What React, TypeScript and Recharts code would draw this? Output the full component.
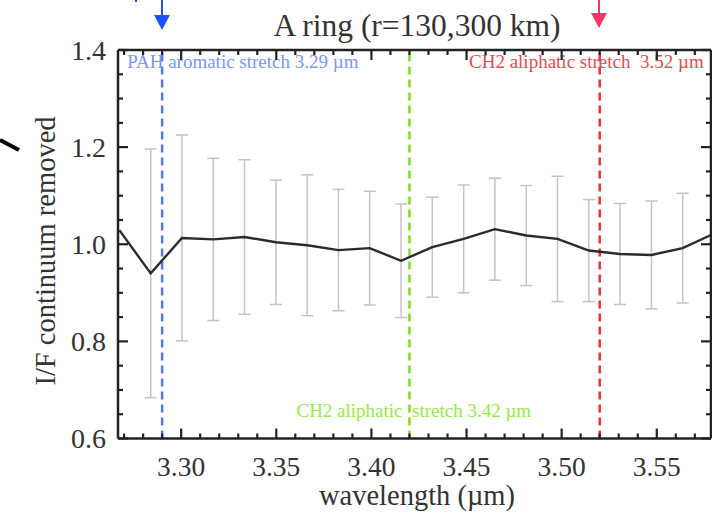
import { ComposedChart, Line, XAxis, YAxis, ErrorBar, ReferenceLine } from "recharts";

// VIMS channels (µm) and the continuum-removed I/F
const wavelength = [
  3.2675, 3.284, 3.3004, 3.3169, 3.3333, 3.3498, 3.3662, 3.3827, 3.3991, 3.4156,
  3.432, 3.4485, 3.4649, 3.4814, 3.4978, 3.5143, 3.5307, 3.5472, 3.5636, 3.5801,
];
const ifRatio = [
  1.029, 0.94, 1.013, 1.01, 1.015, 1.004, 0.998, 0.988, 0.992, 0.966,
  0.994, 1.011, 1.031, 1.018, 1.011, 0.987, 0.98, 0.978, 0.992, 1.022,
];
// 1-sigma error, none visible for the two channels sitting on the frame
const ifError = [
  null, 0.256, 0.212, 0.167, 0.159, 0.128, 0.145, 0.125, 0.117, 0.117,
  0.103, 0.111, 0.105, 0.103, 0.129, 0.105, 0.104, 0.111, 0.113, null,
];

const xTicks = [
  3.27, 3.28, 3.29, 3.3, 3.31, 3.32, 3.33, 3.34, 3.35, 3.36, 3.37, 3.38, 3.39, 3.4, 3.41, 3.42,
  3.43, 3.44, 3.45, 3.46, 3.47, 3.48, 3.49, 3.5, 3.51, 3.52, 3.53, 3.54, 3.55, 3.56, 3.57,
];
const xTickLabels = [3.3, 3.35, 3.4, 3.45, 3.5, 3.55];
const yTicks = [
  0.6, 0.65, 0.7, 0.75, 0.8, 0.85, 0.9, 0.95, 1.0, 1.05, 1.1, 1.15, 1.2, 1.25, 1.3, 1.35, 1.4,
];
const yTickLabels = [0.6, 0.8, 1.0, 1.2, 1.4];

const bandCenters = [3.29, 3.42, 3.52];
const bandLabels = [
  "PAH aromatic stretch 3.29 µm",
  "CH2 aliphatic  stretch 3.42 µm",
  "CH2 aliphatic stretch  3.52 µm",
];

const FONT = "'Liberation Serif', 'Times New Roman', serif";
const INK = "#222";
const TEXT = "#333";
const X_DOMAIN = [3.2668, 3.5785];
const Y_DOMAIN = [0.6, 1.4];

// line colour, text colour, label offset from the line, anchor
const bandStyle = [
  { line: "#5276ff", text: "#7a95ff", dx: -35, dy: 18, anchor: "start" },
  { line: "#80dd1c", text: "#95ea45", dx: -113, dy: 367, anchor: "start" },
  { line: "#e5323f", text: "#e64a52", dx: 104, dy: 18, anchor: "end" },
];

const isOn = (list: number[], v: number) => list.some((t) => Math.abs(t - v) < 1e-6);

const frame = { stroke: INK, strokeWidth: 2.5 };
const MAJOR = 10;
const MINOR = 5;

function BottomTick({ x, y, payload }: any) {
  const major = isOn(xTickLabels, payload.value);
  return (
    <g>
      <line x1={x} x2={x} y1={y} y2={y - (major ? MAJOR : MINOR)} stroke={INK} strokeWidth={2.2} />
      {major && (
        <text x={x} y={y + 37} textAnchor="middle" fontFamily={FONT} fontSize={27.5} fill={TEXT}>
          {payload.value.toFixed(2)}
        </text>
      )}
    </g>
  );
}

function TopTick({ x, y, payload }: any) {
  const major = isOn(xTickLabels, payload.value);
  return <line x1={x} x2={x} y1={y} y2={y + (major ? MAJOR : MINOR)} stroke={INK} strokeWidth={2.2} />;
}

function LeftTick({ x, y, payload }: any) {
  const major = isOn(yTickLabels, payload.value);
  return (
    <g>
      <line x1={x} x2={x + (major ? MAJOR : MINOR)} y1={y} y2={y} stroke={INK} strokeWidth={2.2} />
      {major && (
        <text x={x - 12} y={y + 9.5} textAnchor="end" fontFamily={FONT} fontSize={28} fill={TEXT}>
          {payload.value.toFixed(1)}
        </text>
      )}
    </g>
  );
}

function RightTick({ x, y, payload }: any) {
  const major = isOn(yTickLabels, payload.value);
  return <line x1={x} x2={x - (major ? MAJOR : MINOR)} y1={y} y2={y} stroke={INK} strokeWidth={2.2} />;
}

export default function App() {
  const data = wavelength.map((w, i) => ({ w, r: ifRatio[i], e: ifError[i] }));
  const errData = data.filter((d) => d.e != null);

  return (
    <div style={{ position: "absolute", left: 0, top: 0, width: 712, height: 515, background: "#fff" }}>
      <ComposedChart width={712} height={515} data={data} margin={{ top: 49, right: 0, bottom: 0, left: 0 }}>
        <XAxis
          xAxisId="b"
          dataKey="w"
          type="number"
          domain={X_DOMAIN}
          allowDataOverflow
          ticks={xTicks}
          interval={0}
          tick={BottomTick}
          tickLine={false}
          tickSize={0}
          tickMargin={0}
          height={76.5}
          axisLine={frame}
          label={{
            content: () => (
              <text x={417} y={505} textAnchor="middle" fontFamily={FONT} fontSize={28.5} fill={TEXT}>
                wavelength (µm)
              </text>
            ),
          }}
        />
        <XAxis
          xAxisId="t"
          orientation="top"
          dataKey="w"
          type="number"
          domain={X_DOMAIN}
          ticks={xTicks}
          interval={0}
          tick={TopTick}
          tickLine={false}
          tickSize={0}
          tickMargin={0}
          height={1}
          axisLine={frame}
        />
        <YAxis
          yAxisId="l"
          type="number"
          domain={Y_DOMAIN}
          ticks={yTicks}
          interval={0}
          tick={LeftTick}
          tickLine={false}
          tickSize={0}
          tickMargin={0}
          width={118}
          axisLine={frame}
          label={{
            content: () => (
              <text
                x={45}
                y={251}
                transform="rotate(-90, 45, 251)"
                textAnchor="middle"
                dominantBaseline="central"
                fontFamily={FONT}
                fontSize={28.5}
                fill={TEXT}
              >
                I/F continuum removed
              </text>
            ),
          }}
        />
        <YAxis
          yAxisId="r"
          orientation="right"
          type="number"
          domain={Y_DOMAIN}
          ticks={yTicks}
          interval={0}
          tick={RightTick}
          tickLine={false}
          tickSize={0}
          tickMargin={0}
          width={1}
          axisLine={frame}
        />

        {bandCenters.map((c, i) => {
          const s = bandStyle[i];
          return (
            <ReferenceLine
              key={c}
              x={c}
              xAxisId="b"
              yAxisId="l"
              stroke={s.line}
              strokeWidth={2.5}
              strokeDasharray="8 5"
              label={{
                content: (p: any) => (
                  <text
                    x={p.viewBox.x + s.dx}
                    y={p.viewBox.y + s.dy}
                    textAnchor={s.anchor}
                    fontFamily={FONT}
                    fontSize={19}
                    fill={s.text}
                    style={{ whiteSpace: "pre" }}
                  >
                    {bandLabels[i]}
                  </text>
                ),
              }}
            />
          );
        })}

        {/* error bars ride on the top/right axes (same domains) so those axes get ticks */}
        <Line
          data={errData}
          xAxisId="t"
          yAxisId="r"
          dataKey="r"
          stroke="none"
          dot={false}
          isAnimationActive={false}
        >
          <ErrorBar dataKey="e" direction="y" width={6} stroke="#c4c4c4" strokeWidth={1.5} />
        </Line>
        <Line
          xAxisId="b"
          yAxisId="l"
          dataKey="r"
          type="linear"
          stroke="#2b2b2b"
          strokeWidth={2.4}
          dot={false}
          isAnimationActive={false}
        />
      </ComposedChart>

      <svg width={712} height={515} style={{ position: "absolute", left: 0, top: 0, pointerEvents: "none" }}>
        <text x={417} y={36} textAnchor="middle" fontFamily={FONT} fontSize={31.5} fill={TEXT}>
          A ring (r=130,300 km)
        </text>
        <line x1={162} x2={162} y1={0} y2={17} stroke="#1f4fff" strokeWidth={2} />
        <polygon points="154,15 170,15 162,30" fill="#1f4fff" />
        <line x1={136} x2={136} y1={0} y2={2} stroke="#1f4fff" strokeWidth={2} />
        <line x1={599} x2={599} y1={0} y2={15} stroke="#ff3366" strokeWidth={2} />
        <polygon points="591,13 607,13 599,28" fill="#ff3366" />
        <line x1={0} x2={19} y1={140} y2={150} stroke="#000" strokeWidth={4} />
      </svg>
    </div>
  );
}
